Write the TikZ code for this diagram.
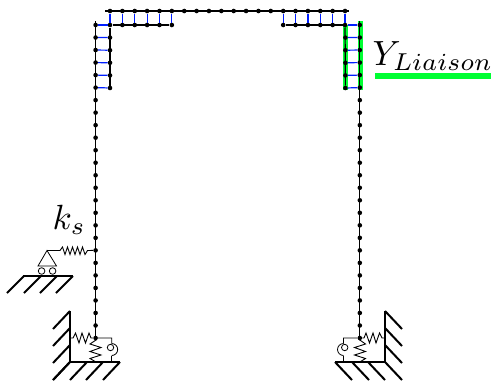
\documentclass[tikz,border=0pt]{standalone}
\definecolor{lgreen}{RGB}{0,255,51}
\definecolor{rung}{RGB}{0,30,255}
\tikzset{
  dot/.style={circle,fill=black,inner sep=0pt,minimum size=4.6pt},
  beam/.style={black,line width=1.2pt},
  rungline/.style={rung,line width=1.2pt},
  hl/.style={lgreen,line width=5pt},
  spring/.style={black,line width=.9pt,line join=miter},
  wall/.style={black,line width=2pt},
  hatch/.style={black,line width=2pt},
  thinl/.style={black,line width=.8pt},
  lab/.style={inner sep=0pt,scale=3.5}
}
\begin{document}
\begin{tikzpicture}[x=1pt,y=-1pt]
\useasboundingbox (0,0) rectangle (494,380);
% named free ends
\coordinate (LT) at (95.6,21);
\coordinate (RT) at (359.8,21);
\coordinate (TL) at (105,11);
\coordinate (TR) at (349,11);
% green highlights
\coordinate (ga) at (345.4,25);
\coordinate (gb) at (345.4,90);
\coordinate (gc) at (360,21);
\coordinate (gd) at (360,90);
\draw[hl] (ga) -- (gb);
\draw[hl] (gc) -- (gd);
% nodes: top chord
\foreach \i in {0,...,19}{\node[dot] (t\i) at ({110+\i*12.37},11) {};}
% lower chord
\foreach \i in {0,...,5}{\node[dot] (l\i) at ({110+\i*12.37},25) {};}
\foreach \i in {14,...,19}{\node[dot] (l\i) at ({110+\i*12.37},25) {};}
% columns
\foreach \i in {0,...,25}{
  \node[dot] (a\i) at (95.6,{25+\i*12.52}) {};
  \node[dot] (b\i) at (359.8,{25+\i*12.52}) {};
}
% inner column stubs
\foreach \i in {1,...,5}{
  \node[dot] (c\i) at (110,{25+\i*12.6}) {};
  \node[dot] (d\i) at (345.4,{25+\i*12.6}) {};
}
% chords
\draw[beam] (TL) -- (TR);
\draw[beam] (l0) -- (l5);
\draw[beam] (l14) -- (l19);
\draw[beam] (LT) -- (a25);
\draw[beam] (RT) -- (b25);
\draw[beam] (l0) -- (c5);
\draw[beam] (l19) -- (d5);
% rungs
\foreach \i in {0,...,5}{\draw[rungline] (t\i) -- (l\i);}
\foreach \i in {14,...,19}{\draw[rungline] (t\i) -- (l\i);}
\draw[rungline] (a0) -- (l0);
\draw[rungline] (b0) -- (l19);
\foreach \i in {1,...,5}{
  \draw[rungline] (a\i) -- (c\i);
  \draw[rungline] (b\i) -- (d\i);
}
% left base
\coordinate (wl) at (70,338);
\coordinate (wlt) at (70,311);
\coordinate (gl) at (70,362);
\coordinate (glr) at (120,362);
\draw[wall] (wlt) -- (gl) -- (glr);
\foreach \y in {311,328,345,362}{\draw[hatch] (70,\y) -- ++(-17,18);}
\foreach \x in {87,103,120,70}{\draw[hatch] (\x,362) -- ++(-17,18);}
\draw[spring] (wl) -- (73,338) -- (75.5,333) -- (79,343) -- (82,333) -- (85.5,343) -- (89,333) -- (91,338) -- (a25);
\draw[spring] (a25) -- (96,340) -- (90,344) -- (101,347.5) -- (90,351.5) -- (101,355) -- (90,358.5) -- (96,362);
\draw[thinl] (a25) -- (111.7,338) -- (111.7,343.5);
\draw[thinl] (111.7,343.5) arc[start angle=-90,end angle=90,radius=6,x=1pt,y=-1pt];
\draw[thinl] (111.7,355.5) -- (111.7,362);
\draw[thinl] (110.5,347.5) circle[radius=3.2];
% right base
\coordinate (wr) at (385,338);
\coordinate (wrt) at (385,311);
\coordinate (gr) at (385,362);
\coordinate (grl) at (335,362);
\draw[wall] (wrt) -- (gr) -- (grl);
\foreach \y in {311,328,345,362}{\draw[hatch] (385,\y) -- ++(17,18);}
\foreach \x in {335,352,368}{\draw[hatch] (\x,362) -- ++(17,18);}
\draw[spring] (wr) -- (382,338) -- (379.5,333) -- (376,343) -- (373,333) -- (369.5,343) -- (366,333) -- (364,338) -- (b25);
\draw[spring] (b25) -- (359.8,340) -- (365.5,344) -- (354.5,347.5) -- (365.5,351.5) -- (354.5,355) -- (365.5,358.5) -- (359.8,362);
\draw[thinl] (b25) -- (343.5,338) -- (343.5,343.5);
\draw[thinl] (343.5,343.5) arc[start angle=-90,end angle=-270,radius=6,x=1pt,y=-1pt];
\draw[thinl] (343.5,355.5) -- (343.5,362);
\draw[thinl] (344.7,347.5) circle[radius=3.2];
% lateral support
\coordinate (ap) at (47,250.5);
\coordinate (ba) at (38,266);
\coordinate (bb) at (56.5,266);
\draw[thinl] (ba) -- (ap) -- (bb) -- cycle;
\draw[spring] (ap) -- (60,250.5) -- (62.5,247) -- (65,254.5) -- (67.5,247) -- (70,254.5) -- (72.5,247) -- (75,254.5) -- (77.5,247) -- (80,254.5) -- (82.5,247) -- (85,254.5) -- (87.5,250.5) -- (a18);
\draw[thinl] (41.6,271) circle[radius=3.3];
\draw[thinl] (52.6,271) circle[radius=3.3];
\draw[wall] (23,276) -- (73,276);
\foreach \x in {23,40,56,72}{\draw[hatch] (\x+1,276) -- ++(-17,17);}
% labels
\node[lab,anchor=base west] (ks) at (52,229.5) {$k_s$};
\node[lab,anchor=base west] (yl) at (372,65) {$Y_{Liaison}$};
\coordinate (ya) at (375,76);
\coordinate (yb) at (491,76);
\draw[lgreen,line width=5.6pt] (ya) -- (yb);
\end{tikzpicture}
\end{document}
